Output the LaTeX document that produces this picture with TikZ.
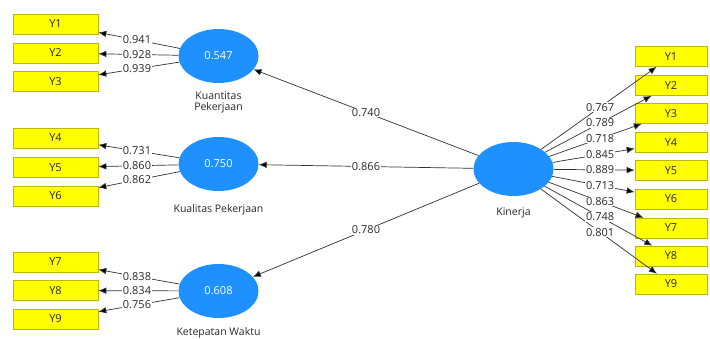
\documentclass[tikz,border=0pt]{standalone}
\usepackage{fontspec}
\setmainfont{Open Sans}
\usetikzlibrary{arrows.meta,calc,shapes.geometric}
\definecolor{lvblue}{RGB}{30,144,255}
\definecolor{indfill}{RGB}{255,255,0}
\definecolor{indline}{RGB}{185,185,0}
\definecolor{lncol}{RGB}{50,50,50}
\definecolor{txcol}{RGB}{40,40,50}
\begin{document}
\begin{tikzpicture}[x=1pt,y=-1pt,
  lv/.style={ellipse, fill=lvblue, minimum width=80pt, minimum height=54pt, inner sep=0pt,
             text=white, font=\fontsize{11}{13}\selectfont},
  indl/.style={rectangle, fill=indfill, draw=indline, line width=0.6pt, minimum width=85pt,
               minimum height=20pt, inner sep=0pt, text=txcol, font=\fontsize{11}{13}\selectfont},
  indr/.style={indl, minimum width=72pt},
  conn/.style={draw=lncol, line width=0.7pt, -{Latex[length=8pt,width=6.5pt,fill=black]}},
  lbl/.style={fill=white, inner sep=0.8pt, text=txcol, font=\fontsize{11}{13}\selectfont},
  captxt/.style={text=txcol, font=\fontsize{10.5}{12}\selectfont, align=center}
]
\useasboundingbox (0,0) rectangle (710,338);
\fill[white] (0,0) rectangle (710,338);

% latent variables
\node[lv] (kq) at (218.5,56) {0.547};
\node[lv] (kl) at (218.5,164) {0.750};
\node[lv] (kw) at (218.5,291) {0.608};
\node[lv] (kin) at (513.5,169) {};

\node[captxt] (capkq) at (218.5,102.5) {Kuantitas\\[-1pt]Pekerjaan};
\node[captxt] (capkl) at (218.5,210) {Kualitas Pekerjaan};
\node[captxt] (capkw) at (218.5,333) {Ketepatan Waktu};
\node[captxt] (capkin) at (513.5,213) {Kinerja};

% left indicators
\node[indl] (l1) at (55.5,24) {Y1};
\node[indl] (l2) at (55.5,53) {Y2};
\node[indl] (l3) at (55.5,81.5) {Y3};
\node[indl] (l4) at (55.5,138) {Y4};
\node[indl] (l5) at (55.5,167.5) {Y5};
\node[indl] (l6) at (55.5,196) {Y6};
\node[indl] (l7) at (55.5,262) {Y7};
\node[indl] (l8) at (55.5,290.5) {Y8};
\node[indl] (l9) at (55.5,319) {Y9};

% right indicators
\node[indr] (r1) at (671,56.5) {Y1};
\node[indr] (r2) at (671,85.5) {Y2};
\node[indr] (r3) at (671,113.5) {Y3};
\node[indr] (r4) at (671,142.5) {Y4};
\node[indr] (r5) at (671,170.5) {Y5};
\node[indr] (r6) at (671,199) {Y6};
\node[indr] (r7) at (671,228) {Y7};
\node[indr] (r8) at (671,256) {Y8};
\node[indr] (r9) at (671,284) {Y9};

% left loadings
\foreach \lv/\ind/\v in {kq/l1/0.941, kq/l2/0.928, kq/l3/0.939,
                          kl/l4/0.731, kl/l5/0.860, kl/l6/0.862,
                          kw/l7/0.838, kw/l8/0.834, kw/l9/0.756}{
  \draw[conn] (\lv) -- (\ind);
  \node[lbl] at ($(\lv)!0.5!(\ind)$) {\v};
}

% inner paths
\foreach \t/\v in {kq/0.740, kl/0.866, kw/0.780}{
  \draw[conn] (kin) -- (\t);
  \node[lbl] at ($(kin)!0.5!(\t)$) {\v};
}

% right loadings
\foreach \ind in {r1,r2,r3,r4,r5,r6,r7,r8,r9}{
  \draw[conn] (kin) -- (\ind);
}
\foreach \ind/\v in {r1/0.767, r2/0.789, r3/0.718, r4/0.845, r5/0.889,
                     r6/0.713, r7/0.863, r8/0.748, r9/0.801}{
  \node[lbl] at ($(kin)!0.55!(\ind)$) {\v};
}
\end{tikzpicture}
\end{document}
